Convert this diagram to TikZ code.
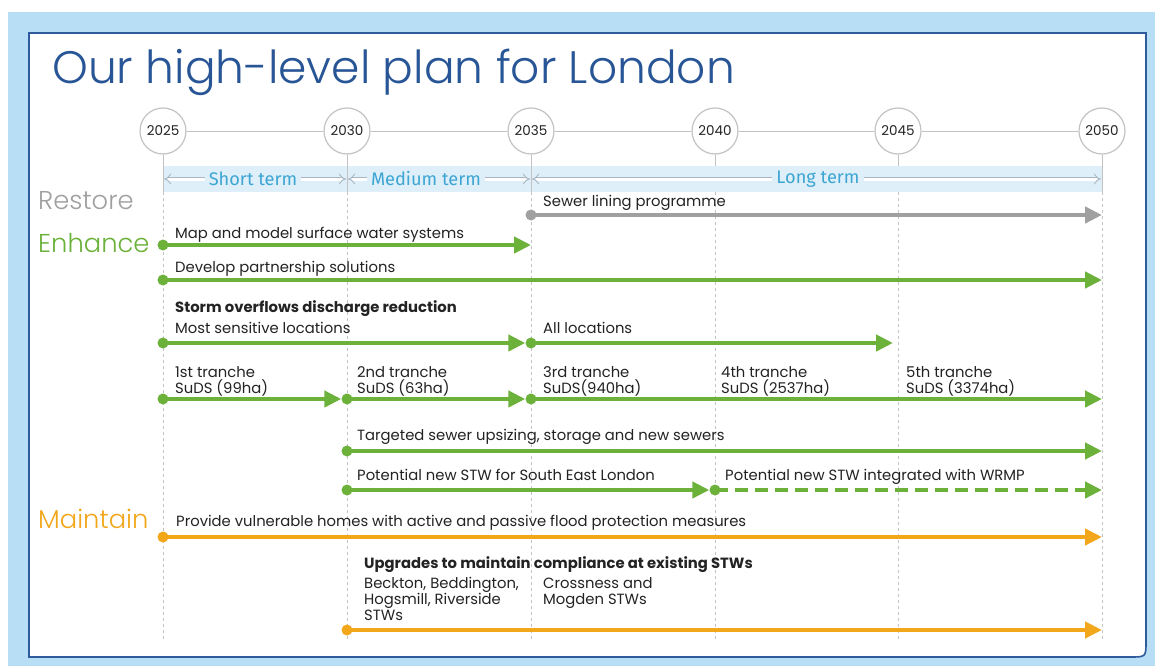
\documentclass[tikz,border=0pt]{standalone}
\usepackage{fontspec}
\setmainfont{Poppins}
\IfFontExistsTF{Poppins Light}{\newfontfamily\lightfont{Poppins Light}}{\newfontfamily\lightfont{Poppins}}
\newfontfamily\termfont{Fira Sans}
\usetikzlibrary{arrows.meta}

\definecolor{skyblue}{RGB}{184,222,245}
\definecolor{panelblue}{RGB}{47,90,155}
\definecolor{titleblue}{RGB}{40,85,150}
\definecolor{bandblue}{RGB}{222,239,250}
\definecolor{termblue}{RGB}{60,165,210}
\definecolor{termline}{RGB}{170,180,190}
\definecolor{leaf}{RGB}{108,177,58}
\definecolor{amber}{RGB}{242,167,27}
\definecolor{stone}{RGB}{160,160,160}
\definecolor{gridgray}{RGB}{195,195,195}
\definecolor{ink}{RGB}{35,35,35}

\begin{document}
\begin{tikzpicture}[x=1pt,y=-1pt,
  yearcircle/.style={circle, draw=gridgray, line width=1.2pt, fill=white, minimum size=46pt, inner sep=0pt, font=\fontsize{13.5}{15}\selectfont, text=ink},
  gridsolid/.style={draw=gridgray, line width=1pt},
  griddash/.style={draw=gridgray, line width=0.9pt, dash pattern=on 3pt off 3pt},
  termtext/.style={font=\termfont\fontsize{18.2}{20}\selectfont, text=termblue, inner sep=4pt},
  termarr/.style={draw=termline, line width=0.8pt, double=white, double distance=3pt, -{Implies}},
  rowlabel/.style={anchor=west, inner sep=0pt, font=\lightfont\fontsize{25.8}{28}\selectfont},
  txt/.style={anchor=base west, inner sep=0pt, font=\fontsize{14.8}{16}\selectfont, text=ink, align=left},
  btxt/.style={txt, font=\bfseries\fontsize{14.8}{16}\selectfont},
  tip/.style={-{Triangle[length=17pt,width=16pt]}},
  garrow/.style={draw=leaf, line width=4.3pt, tip},
  oarrow/.style={draw=amber, line width=4.3pt, tip},
  sarrow/.style={draw=stone, line width=4.3pt, tip},
  gdot/.style={circle, fill=leaf, inner sep=0pt, minimum size=11pt},
  odot/.style={circle, fill=amber, inner sep=0pt, minimum size=11pt},
  sdot/.style={circle, fill=stone, inner sep=0pt, minimum size=11pt}
]
\useasboundingbox (0,0) rectangle (1155,666);

% backdrop and framed panel
\fill[skyblue] (8,12) rectangle (1155,666);
\draw[panelblue, line width=1.6pt, fill=white]
  (29,33) -- (1146,33) -- (1146,641) .. controls (1146,657) .. (1130,657) -- (29,657) -- cycle;

% title
\node[anchor=base west, inner sep=0pt, font=\lightfont\fontsize{45.5}{48}\selectfont, text=titleblue] (title) at (52,84) {Our high-level plan for London};

% term band
\fill[bandblue] (163,166) rectangle (1102,192);

% years and grid
\foreach \yr/\x in {2025/163,2030/347,2035/531,2040/715,2045/898,2050/1102} {
  \node[yearcircle] (y\yr) at (\x,131) {\yr};
  \draw[griddash] (\x,192) -- (\x,640);
}
\foreach \yr/\x in {2025/163,2030/347,2035/531,2050/1102} {
  \draw[gridsolid] (y\yr.south) -- (\x,192);
}
\foreach \yr/\x in {2040/715,2045/898} {
  \draw[gridsolid] (y\yr.south) -- (\x,166);
}
\draw[gridsolid] (y2025) -- (y2030);
\draw[gridsolid] (y2030) -- (y2035);
\draw[gridsolid] (y2035) -- (y2040);
\draw[gridsolid] (y2040) -- (y2045);
\draw[gridsolid] (y2045) -- (y2050);

% term arrows
\coordinate (t25) at (164,179);
\coordinate (t30l) at (346,179);
\coordinate (t30r) at (348,179);
\coordinate (t35l) at (530,179);
\coordinate (t35r) at (532,179);
\coordinate (t50) at (1101,179);
\node[termtext] (short) at (253,179) {Short term};
\node[termtext] (medium) at (426,179) {Medium term};
\node[termtext] (long) at (818,179) {Long term};
\draw[termarr] (short.west) -- (t25);
\draw[termarr] (short.east) -- (t30l);
\draw[termarr] (medium.west) -- (t30r);
\draw[termarr] (medium.east) -- (t35l);
\draw[termarr] (long.west) -- (t35r);
\draw[termarr] (long.east) -- (t50);

% row labels
\node[rowlabel, text=stone] (restore) at (38,201) {Restore};
\node[rowlabel, text=leaf] (enhance) at (38,243) {Enhance};
\node[rowlabel, text=amber] (maintain) at (38,519) {Maintain};

% Restore
\node[txt] (sewer) at (543,206) {Sewer lining programme};
\node[sdot] (r1a) at (531,215) {};
\coordinate (r1b) at (1102,215);
\draw[sarrow] (r1a.center) -- (r1b);

% Enhance
\node[txt] (map) at (175,238) {Map and model surface water systems};
\node[gdot] (e1a) at (163,245) {};
\coordinate (e1b) at (531,245);
\draw[garrow] (e1a.center) -- (e1b);

\node[txt] (develop) at (175,272) {Develop partnership solutions};
\node[gdot] (e2a) at (163,280) {};
\coordinate (e2b) at (1102,280);
\draw[garrow] (e2a.center) -- (e2b);

\node[btxt] (storm) at (175,312) {Storm overflows discharge reduction};
\node[txt] (sens) at (175,333) {Most sensitive locations};
\node[txt] (all) at (543,333) {All locations};
\node[gdot] (e3a) at (163,343) {};
\node[gdot] (e3b) at (531,343) {};
\coordinate (e3c) at (893,343);
\draw[garrow] (e3a.center) -- (e3b.west);
\draw[garrow] (e3b.center) -- (e3c);

% two-line labels sit on the baseline of their last line
\node[txt] (tr1) at (175,393) {1st tranche\\SuDS (99ha)};
\node[txt] (tr2) at (357,393) {2nd tranche\\SuDS (63ha)};
\node[txt] (tr3) at (543,393) {3rd tranche\\SuDS(940ha)};
\node[txt] (tr4) at (721,393) {4th tranche\\SuDS (2537ha)};
\node[txt] (tr5) at (906,393) {5th tranche\\SuDS (3374ha)};
\node[gdot] (e4a) at (163,399) {};
\node[gdot] (e4b) at (347,399) {};
\node[gdot] (e4c) at (531,399) {};
\coordinate (e4d) at (1102,399);
\draw[garrow] (e4a.center) -- (e4b.west);
\draw[garrow] (e4b.center) -- (e4c.west);
\draw[garrow] (e4c.center) -- (e4d);

\node[txt] (upsize) at (357,440) {Targeted sewer upsizing, storage and new sewers};
\node[gdot] (e5a) at (347,451) {};
\coordinate (e5b) at (1102,451);
\draw[garrow] (e5a.center) -- (e5b);

\node[txt] (stwse) at (357,480) {Potential new STW for South East London};
\node[txt] (stwwr) at (725,480) {Potential new STW integrated with WRMP};
\node[gdot] (e6a) at (347,490) {};
\node[gdot] (e6b) at (715,490) {};
\coordinate (e6c) at (1102,490);
\draw[garrow] (e6a.center) -- (e6b.west);
\draw[garrow, dash pattern=on 13pt off 7pt] (e6b.center) -- (e6c);

% Maintain
\node[txt] (protect) at (176,526) {Provide vulnerable homes with active and passive flood protection measures};
\node[odot] (m1a) at (163,537) {};
\coordinate (m1b) at (1102,537);
\draw[oarrow] (m1a.center) -- (m1b);

\node[btxt] (upgrades) at (364,568) {Upgrades to maintain compliance at existing STWs};
\node[txt] (beckton) at (364,620) {Beckton, Beddington,\\Hogsmill, Riverside\\STWs};
\node[txt] (cross) at (543,604) {Crossness and\\Mogden STWs};
\node[odot] (m2a) at (347,630) {};
\coordinate (m2b) at (1102,630);
\draw[oarrow] (m2a.center) -- (m2b);
\end{tikzpicture}
\end{document}
